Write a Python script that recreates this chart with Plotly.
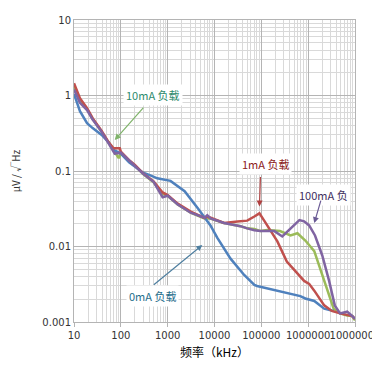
import plotly.graph_objects as go

# ---- data (frequency in kHz, noise in uV/sqrt(Hz)) ----
f_1mA = [10, 13.4, 19, 25, 39, 55, 70, 95, 100, 150, 200, 300, 500, 780, 1000, 1640, 3100, 6100, 7000, 8200,
         16000, 31000, 50000, 71000, 91000, 115000, 135000, 220000, 350000, 590000, 820000, 1050000, 1350000,
         2200000, 3200000, 4800000, 6800000, 8700000, 10000000]
v_1mA = [1.45, 0.92, 0.68, 0.50, 0.34, 0.24, 0.20, 0.20, 0.18, 0.139, 0.12, 0.093, 0.073, 0.052, 0.048, 0.037,
         0.029, 0.024, 0.025, 0.024, 0.0205, 0.0215, 0.022, 0.025, 0.0275, 0.022, 0.019, 0.0117, 0.0063, 0.0044,
         0.0035, 0.0032, 0.0026, 0.00166, 0.0014, 0.0013, 0.00125, 0.0012, 0.0011]

f_10mA = [10, 13.4, 19, 25, 39, 55, 70, 90, 100, 150, 200, 300, 500, 780, 1000, 1640, 3100, 6100, 8200,
          16000, 36000, 50000, 71000, 96000, 135000, 250000, 420000, 590000, 870000, 1350000, 1800000,
          2500000, 3500000, 4800000, 6800000, 8700000, 10000000]
v_10mA = [1.3, 0.86, 0.66, 0.49, 0.33, 0.235, 0.19, 0.148, 0.17, 0.136, 0.118, 0.091, 0.071, 0.05, 0.047,
          0.036, 0.028, 0.0235, 0.0235, 0.0205, 0.0186, 0.0174, 0.017, 0.016, 0.0165, 0.016, 0.014, 0.015,
          0.012, 0.0087, 0.0051, 0.0028, 0.0015, 0.0013, 0.00122, 0.0012, 0.00105]

f_100mA = [10, 13.4, 19, 25, 39, 55, 74, 100, 150, 200, 300, 500, 780, 1000, 1640, 3100, 6100, 7000, 8200,
           16000, 36000, 50000, 71000, 96000, 190000, 280000, 420000, 650000, 820000, 1050000, 1400000,
           2000000, 2800000, 3700000, 4800000, 6800000, 8700000, 10000000]
v_100mA = [1.2, 0.8, 0.64, 0.48, 0.33, 0.235, 0.17, 0.175, 0.137, 0.118, 0.092, 0.072, 0.045, 0.047, 0.036,
           0.028, 0.024, 0.026, 0.0235, 0.0205, 0.0186, 0.0174, 0.0164, 0.016, 0.016, 0.0136, 0.0174, 0.0224,
           0.0215, 0.019, 0.014, 0.0076, 0.0035, 0.00166, 0.0013, 0.00137, 0.0012, 0.0011]

f_0mA = [10, 13.4, 19, 25, 39, 55, 70, 100, 150, 200, 300, 415, 600, 1150, 2300, 4400, 8200, 11500, 22000,
         43000, 71000, 81000, 135000, 420000, 680000, 870000, 1350000, 2200000, 3500000]
v_0mA = [1.05, 0.62, 0.43, 0.37, 0.30, 0.24, 0.19, 0.17, 0.13, 0.115, 0.095, 0.088, 0.080, 0.074, 0.054,
         0.032, 0.019, 0.013, 0.0069, 0.0042, 0.0031, 0.003, 0.0028, 0.0024, 0.0022, 0.00205, 0.0019,
         0.0015, 0.0014]

x_tickvals = [10, 100, 1000, 10000, 100000, 1000000, 10000000]
x_ticktext = ["10", "100", "1000", "10000", "100000", "1000000", "10000000"]
y_tickvals = [0.001, 0.01, 0.1, 1, 10]
y_ticktext = ["0.001", "0.01", "0.1", "1", "10"]

FONT = "Noto Sans CJK SC, Noto Sans, sans-serif"
TICKFONT = "DejaVu Sans, sans-serif"

fig = go.Figure()
series = [
    ("10mA", f_10mA, v_10mA, "#9BBB59"),
    ("0mA", f_0mA, v_0mA, "#4F81BD"),
    ("1mA", f_1mA, v_1mA, "#C0504D"),
    ("100mA", f_100mA, v_100mA, "#8064A2"),
]
for name, fx, vy, col in series:
    fig.add_trace(go.Scatter(x=fx, y=vy, mode="lines", name=name,
                             line=dict(color=col, width=2.5)))

# text labels
labels = [
    ("10mA 负载", 2.68, 0.005, "#2E8B6E"),
    ("1mA 负载", 5.09, -0.91, "#8B2020"),
    ("100mA 负", 6.32, -1.32, "#3F3060"),
    ("0mA 负载", 2.68, -2.66, "#1F6E8C"),
]
for t, lx, ly, c in labels:
    fig.add_annotation(x=lx, y=ly, xref="x", yref="y", text=t, showarrow=False,
                       font=dict(family=FONT, size=11, color=c), bgcolor="white", borderpad=2)

arrows = [
    (1.87, -0.59, 30, -34, "#7FB36A"),
    (4.96, -1.47, 1, -31, "#B04040"),
    (6.13, -1.69, 7, -24, "#6B5B95"),
    (3.74, -1.98, -50, 41, "#4F7FA0"),
]
for hx, hy, axo, ayo, c in arrows:
    fig.add_annotation(x=hx, y=hy, xref="x", yref="y", text="", showarrow=True,
                       ax=axo, ay=ayo, arrowhead=2, arrowsize=1, arrowwidth=1.2, arrowcolor=c)

fig.update_xaxes(type="log", range=[1, 7], tickvals=x_tickvals, ticktext=x_ticktext,
                 tickangle=0, automargin=False,
                 showgrid=True, gridcolor="#b4b4b4", gridwidth=1,
                 minor=dict(showgrid=True, gridcolor="#d9d9d9", dtick="D1"),
                 showline=True, linecolor="#b4b4b4", mirror=True,
                 ticks="outside", ticklen=4, tickcolor="#b4b4b4",
                 tickfont=dict(family=TICKFONT, size=10, color="#333333"),
                 title=dict(text="频率（kHz）", font=dict(family=FONT, size=12, color="#000000"), standoff=8),
                 zeroline=False)
fig.update_yaxes(type="log", range=[-3, 1], tickvals=y_tickvals, ticktext=y_ticktext,
                 automargin=False,
                 showgrid=True, gridcolor="#b4b4b4", gridwidth=1,
                 minor=dict(showgrid=True, gridcolor="#d9d9d9", dtick="D1"),
                 showline=True, linecolor="#b4b4b4", mirror=True,
                 ticks="", tickfont=dict(family=TICKFONT, size=10, color="#333333"),
                 title=dict(text="μV / √Hz", font=dict(family=FONT, size=10, color="#333333"), standoff=26),
                 zeroline=False)

fig.update_layout(width=380, height=370, margin=dict(l=66, r=33, t=12, b=56),
                  paper_bgcolor="white", plot_bgcolor="white", showlegend=False,
                  font=dict(family=FONT))
fig.write_html("out.html")
